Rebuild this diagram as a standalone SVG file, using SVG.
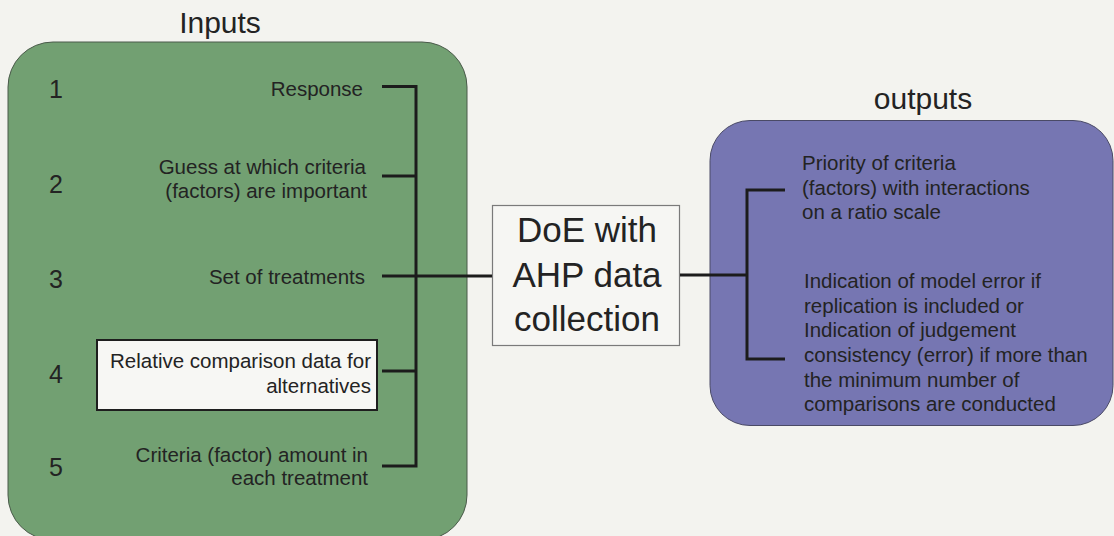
<svg xmlns="http://www.w3.org/2000/svg" width="1114" height="536" viewBox="0 0 1114 536">
<style>
  text { font-family: "Liberation Sans", Arial, sans-serif; fill: #232323; }
  .title { font-size: 30px; text-anchor: middle; }
  .num { font-size: 25px; }
  .lbl { font-size: 20.5px; text-anchor: end; }
  .out { font-size: 20.5px; }
  .doe { font-size: 35px; text-anchor: middle; }
  .con { stroke: #1c1c1c; stroke-width: 3; fill: none; }
</style>
<rect x="0" y="0" width="1114" height="536" fill="#f3f3ef"/>
<g id="inputs">
  <text class="title" x="220" y="33">Inputs</text>
  <rect x="8" y="42" width="459" height="498" rx="45" ry="45" fill="#72a072" stroke="#4a5a4a" stroke-width="1"/>
  <text class="num" x="49" y="98">1</text>
  <text class="num" x="49" y="193">2</text>
  <text class="num" x="49" y="288">3</text>
  <text class="num" x="49" y="383">4</text>
  <text class="num" x="49" y="476">5</text>
  <text class="lbl" x="363" y="96">Response</text>
  <text class="lbl" x="366" y="174">Guess at which criteria</text>
  <text class="lbl" x="367" y="198">(factors) are important</text>
  <text class="lbl" x="365" y="284">Set of treatments</text>
  <rect x="97" y="340" width="280" height="70" fill="#f7f7f4" stroke="#1e1e1e" stroke-width="2"/>
  <text class="lbl" x="371" y="368">Relative comparison data for</text>
  <text class="lbl" x="371" y="393">alternatives</text>
  <text class="lbl" x="368" y="462">Criteria (factor) amount in</text>
  <text class="lbl" x="368" y="485">each treatment</text>
</g>
<g id="doe">
  <rect x="492.5" y="205.5" width="187" height="140" fill="#f6f6f3" stroke="#7a7a7a" stroke-width="1.2"/>
  <text class="doe" x="587" y="242">DoE with</text>
  <text class="doe" x="587" y="287">AHP data</text>
  <text class="doe" x="587" y="331">collection</text>
</g>
<g id="outputs">
  <text class="title" x="923" y="109">outputs</text>
  <rect x="710" y="120.5" width="403" height="305" rx="40" ry="40" fill="#7676b2" stroke="#4a4a66" stroke-width="1"/>
  <text class="out" x="802" y="170">Priority of criteria</text>
  <text class="out" x="802" y="194.5">(factors) with interactions</text>
  <text class="out" x="802" y="219">on a ratio scale</text>
  <text class="out" x="804" y="287.5">Indication of model error if</text>
  <text class="out" x="804" y="312.5">replication is included or</text>
  <text class="out" x="804" y="337">Indication of judgement</text>
  <text class="out" x="804" y="361.7">consistency (error) if more than</text>
  <text class="out" x="804" y="386.5">the minimum number of</text>
  <text class="out" x="804" y="411">comparisons are conducted</text>
</g>
<g id="connectors">
  <path class="con" d="M382 86.5 H416 V466 H382"/>
  <path class="con" d="M382 176 H416"/>
  <path class="con" d="M382 371 H416"/>
  <path class="con" d="M382 276 H492"/>
  <path class="con" d="M680 275 H747"/>
  <path class="con" d="M785 190 H747 V359 H785"/>
</g>
</svg>
